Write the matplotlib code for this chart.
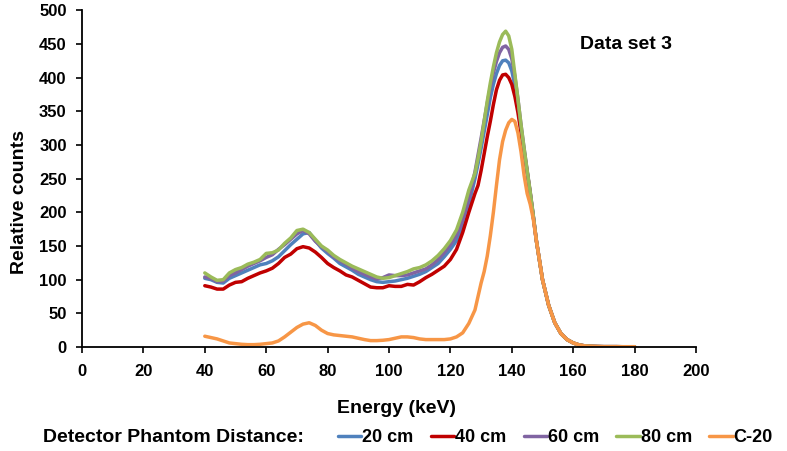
import matplotlib
matplotlib.use('Agg')
import matplotlib.pyplot as plt

plt.rcParams['font.family'] = ['Liberation Sans', 'DejaVu Sans']
plt.rcParams['font.weight'] = 'bold'

# energy grid (keV): 2 keV steps, 1 keV steps around the photopeak
energy = list(range(40, 129, 2)) + list(range(129, 148)) + list(range(148, 182, 2))

tail = [158, 100, 62, 36, 20, 11, 6, 3, 1.5, 1, 0.7, 0.5, 0.5, 0.5, 0.4, 0.4, 0.4]

cm20 = [102, 100, 96, 95, 102, 106, 110, 114, 118, 122, 124, 128, 134, 143, 152, 160,
        168, 170, 158, 147, 139, 132, 124, 119, 114, 108, 104, 100, 97, 96, 97, 98,
        100, 102, 105, 108, 112, 118, 124, 134, 145, 158, 180, 212, 250,
        272, 295, 320, 345, 370, 390, 406, 418, 425, 426, 422, 410, 388, 360, 325,
        292, 260, 228, 194] + tail

cm40 = [91, 89, 86, 86, 92, 96, 97, 102, 106, 110, 113, 117, 124, 133, 138, 146,
        149, 147, 141, 133, 124, 118, 113, 107, 104, 99, 94, 89, 88, 88, 91, 90,
        90, 93, 92, 97, 103, 108, 114, 120, 130, 145, 170, 200, 228,
        240, 262, 287, 312, 335, 360, 382, 396, 404, 405, 400, 390, 372, 348, 318,
        290, 260, 228, 193] + tail

cm60 = [104, 102, 97, 98, 106, 110, 115, 120, 124, 128, 133, 137, 145, 152, 160, 168,
        173, 168, 157, 149, 142, 134, 128, 123, 117, 112, 108, 104, 101, 103, 107, 106,
        106, 107, 110, 113, 116, 122, 130, 140, 152, 166, 188, 220, 260,
        285, 310, 336, 362, 386, 407, 424, 437, 445, 447, 442, 428, 402, 368, 330,
        295, 262, 230, 195] + tail

cm80 = [110, 104, 99, 100, 110, 115, 118, 123, 126, 130, 139, 140, 144, 154, 162, 173,
        175, 170, 160, 150, 144, 136, 130, 125, 120, 116, 112, 108, 104, 102, 103, 106,
        109, 112, 116, 118, 122, 128, 136, 146, 158, 174, 200, 233, 258,
        280, 305, 335, 365, 392, 416, 437, 453, 464, 469, 462, 442, 405, 368, 330,
        295, 262, 230, 195] + tail

c20 = [16, 14, 12, 9, 6, 5, 4, 3.5, 3.5, 4, 5, 6, 9, 15, 22, 29,
       34, 36, 32, 25, 20, 18, 17, 16, 15, 13, 11, 9.5, 9.5, 10, 11, 13,
       15, 15, 14, 12, 11, 11, 11, 11, 12, 15, 21, 35, 55,
       75, 95, 112, 135, 165, 200, 240, 278, 305, 322, 333, 338, 335, 318, 290,
       255, 228, 212, 190] + tail

series = [
    ('20 cm', cm20, '#4F81BD'),
    ('40 cm', cm40, '#C00000'),
    ('60 cm', cm60, '#8064A2'),
    ('80 cm', cm80, '#9BBB59'),
    ('C-20', c20, '#F79646'),
]

fig = plt.figure(figsize=(7.87, 4.51), dpi=100)
ax = fig.add_axes([82 / 787, 1 - 347 / 451, (696 - 82) / 787, (347 - 10.3) / 451])

for name, vals, col in series:
    ax.plot(energy, vals, color=col, lw=2.5, label=name,
            solid_joinstyle='round', solid_capstyle='round')

ax.set_xlim(0, 200)
ax.set_ylim(0, 500)
ax.set_xticks(range(0, 201, 20))
ax.set_yticks(range(0, 501, 50))
ax.tick_params(labelsize=12, length=4, width=1.2, direction='out')
ax.tick_params(axis='x', pad=8)
ax.tick_params(axis='y', pad=7)
for lab in ax.get_xticklabels() + ax.get_yticklabels():
    lab.set_fontweight('bold')
for s in ['top', 'right']:
    ax.spines[s].set_visible(False)
ax.spines['left'].set_linewidth(1.3)
ax.spines['bottom'].set_linewidth(1.3)

ax.set_xlabel('Energy (keV)', fontsize=14, fontweight='bold')
ax.xaxis.set_label_coords(0.513, -0.157)
ax.set_ylabel('Relative counts', fontsize=14, fontweight='bold')
ax.yaxis.label.set_va('center')
ax.yaxis.set_label_coords(-0.102, 0.432)

ax.text(0.886, 0.898, 'Data set 3', transform=ax.transAxes, fontsize=14,
        fontweight='bold', ha='center', va='center')

fig.text(43 / 787, 1 - 438 / 451, 'Detector Phantom Distance:', fontsize=14,
         fontweight='bold', ha='left', va='center')
fig.legend(loc='center left', bbox_to_anchor=(338 / 787, 1 - 438 / 451), ncol=5,
           frameon=False, handlelength=1.3, handletextpad=0.05,
           columnspacing=0.95, borderpad=0, borderaxespad=0,
           prop={'weight': 'bold', 'size': 13})

fig.savefig('out.png', dpi=100)
